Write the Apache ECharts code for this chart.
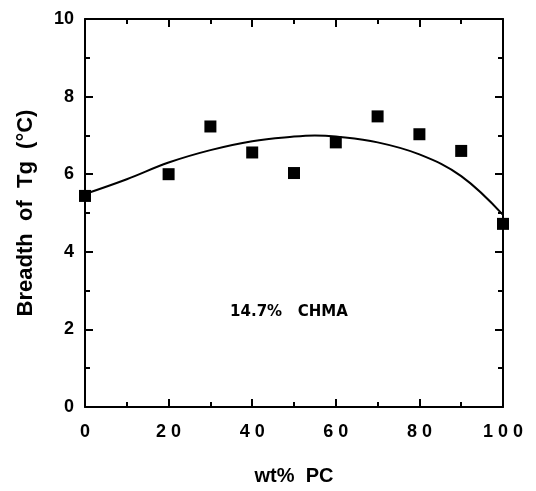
<!DOCTYPE html>
<html>
<head>
<meta charset="utf-8">
<script src="https://cdn.jsdelivr.net/npm/echarts@6/dist/echarts.min.js"></script>
<style>
  html, body { margin: 0; padding: 0; background: #fff; }
  #chart { width: 536px; height: 491px; }
</style>
</head>
<body>
<div id="chart"></div>
<script>
// measured points (wt% PC, breadth of Tg)
const pcWt = [0, 20, 30, 40, 50, 60, 70, 80, 90, 100]
const tgBreadth = [5.44, 6.0, 7.23, 6.56, 6.03, 6.82, 7.49, 7.03, 6.6, 4.72]

// fitted curve
const fitX = [0, 10, 20, 30, 40, 50, 55, 60, 70, 80, 90, 100]
const fitY = [5.49, 5.87, 6.3, 6.62, 6.85, 6.97, 7.0, 6.97, 6.82, 6.51, 5.95, 4.95]

const annotation = { x: 48.8, y: 2.44, text: '14.7%   CHMA' }

const font = '"Liberation Sans", Arial, sans-serif'
const axisLine = { show: true, onZero: false, lineStyle: { color: '#000', width: 2 } }
const tick = { inside: true, length: 8, lineStyle: { color: '#000', width: 2 } }
const minor = { show: true, splitNumber: 2, length: 5, lineStyle: { color: '#000', width: 2 } }

const chart = echarts.init(document.getElementById('chart'))

const option = {
    animation: false,
    backgroundColor: '#fff',
    grid: { left: 85, right: 33, top: 19, bottom: 82 },
    xAxis: [
        {
            type: 'value', min: 0, max: 100, interval: 20,
            axisLine: axisLine, axisTick: tick, minorTick: minor,
            splitLine: { show: false },
            axisLabel: {
                margin: 16, color: '#000', fontSize: 18, fontWeight: 'bold', fontFamily: font,
                formatter: v => String(v).split('').join(' ')
            },
            name: 'wt%  PC', nameLocation: 'middle', nameGap: 59,
            nameTextStyle: { color: '#000', fontSize: 20, fontWeight: 'bold', fontFamily: font }
        },
        {
            type: 'value', position: 'top', min: 0, max: 100, interval: 20,
            axisLine: axisLine, axisTick: tick, minorTick: minor,
            splitLine: { show: false },
            axisLabel: { show: false }
        }
    ],
    yAxis: [
        {
            type: 'value', min: 0, max: 10, interval: 2,
            axisLine: axisLine, axisTick: tick, minorTick: minor,
            splitLine: { show: false },
            axisLabel: { margin: 11, color: '#000', fontSize: 18, fontWeight: 'bold', fontFamily: font },
            name: 'Breadth  of  Tg  (°C)', nameLocation: 'middle', nameGap: 48, nameRotate: 90,
            nameTextStyle: { color: '#000', fontSize: 22, fontWeight: 'bold', fontFamily: font }
        },
        {
            type: 'value', position: 'right', min: 0, max: 10, interval: 2,
            axisLine: axisLine, axisTick: tick, minorTick: minor,
            splitLine: { show: false },
            axisLabel: { show: false }
        }
    ],
    series: [
        {
            type: 'line',
            data: fitX.map((x, i) => [x, fitY[i]]),
            smooth: 0.4,
            showSymbol: false,
            lineStyle: { color: '#000', width: 2 },
            z: 2
        },
        {
            type: 'scatter',
            data: pcWt.map((x, i) => [x, tgBreadth[i]]),
            symbol: 'rect',
            symbolSize: 12,
            itemStyle: { color: '#000', opacity: 1 },
            z: 3
        },
        {
            type: 'scatter',
            data: [[annotation.x, annotation.y]],
            symbolSize: 0,
            silent: true,
            itemStyle: { opacity: 1 },
            label: {
                show: true, position: 'inside', formatter: annotation.text,
                color: '#000', fontSize: 15, fontWeight: 'bold', fontFamily: '"DejaVu Sans", sans-serif'
            }
        }
    ]
}

chart.setOption(option)
</script>
</body>
</html>
